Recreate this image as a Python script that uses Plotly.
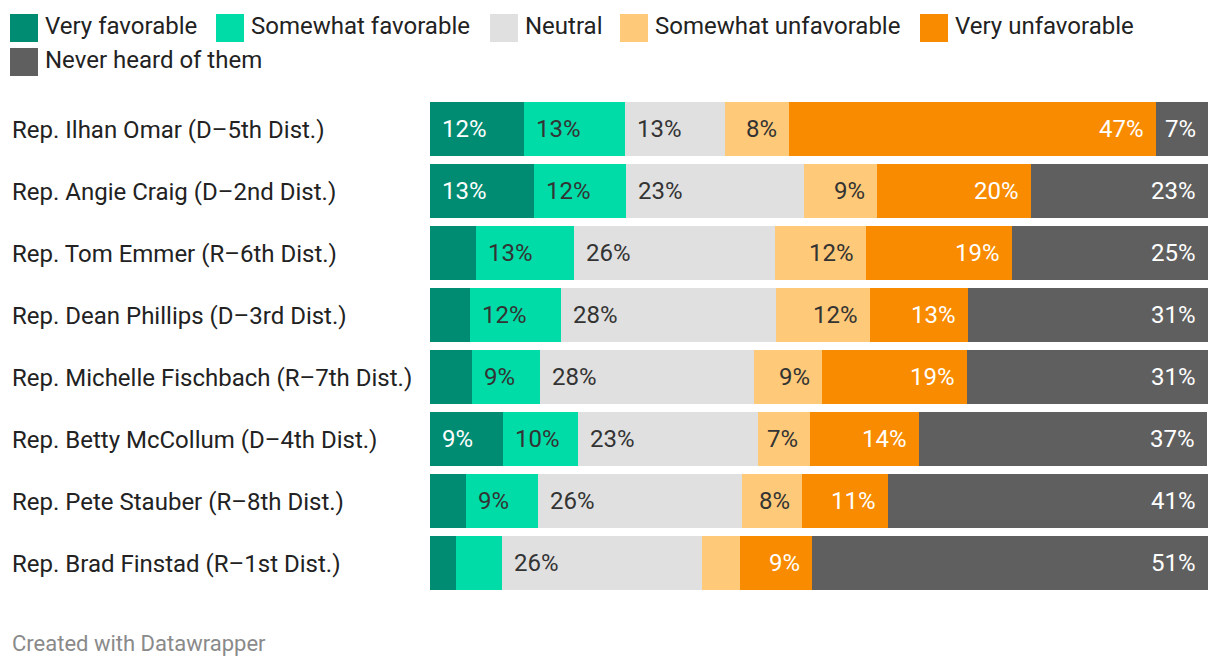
import plotly.graph_objects as go

# ---- data ----
representatives = [
    "Rep. Ilhan Omar (D\u20135th Dist.)",
    "Rep. Angie Craig (D\u20132nd Dist.)",
    "Rep. Tom Emmer (R\u20136th Dist.)",
    "Rep. Dean Phillips (D\u20133rd Dist.)",
    "Rep. Michelle Fischbach (R\u20137th Dist.)",
    "Rep. Betty McCollum (D\u20134th Dist.)",
    "Rep. Pete Stauber (R\u20138th Dist.)",
    "Rep. Brad Finstad (R\u20131st Dist.)",
]
series_names = ["Very favorable", "Somewhat favorable", "Neutral",
                "Somewhat unfavorable", "Very unfavorable", "Never heard of them"]

very_favorable = [12.1, 13.4, 5.9, 5.1, 5.4, 9.4, 4.6, 3.3]
somewhat_favorable = [12.9, 11.8, 12.6, 11.8, 8.7, 9.6, 9.3, 5.9]
neutral = [12.9, 22.9, 25.9, 27.6, 27.6, 23.1, 26.2, 25.7]
somewhat_unfavorable = [8.2, 9.3, 11.6, 12.1, 8.7, 6.7, 7.7, 4.9]
very_unfavorable = [47.2, 19.8, 18.8, 12.6, 18.6, 14.1, 11.1, 9.3]
never_heard = [6.7, 22.8, 25.2, 30.8, 31.0, 37.0, 41.1, 50.9]

series_values = [very_favorable, somewhat_favorable, neutral,
                 somewhat_unfavorable, very_unfavorable, never_heard]

colors = ["#008c72", "#00dca7", "#e0e0e0", "#fec978", "#f98b00", "#5f5f5f"]
label_colors = ["#ffffff", "#333333", "#333333", "#333333", "#ffffff", "#ffffff"]
label_align = ["left", "left", "left", "right", "right", "right"]
MIN_LABEL = 6.0

FONT = "Roboto"
W, H = 1220, 668
ML, MR, MT, MB = 430, 12, 98, 74
PW = W - ML - MR
PH = H - MT - MB


def px_x(px):
    return (px - ML) / PW


def px_y(py):
    return (H - MB - py) / PH


fig = go.Figure()
for name, vals, col in zip(series_names, series_values, colors):
    fig.add_trace(go.Bar(
        y=representatives, x=vals, name=name, orientation="h",
        marker=dict(color=col, line=dict(width=0)),
        hoverinfo="skip", showlegend=False,
    ))

annotations = []
# value labels
for s, vals in enumerate(series_values):
    for i, rep in enumerate(representatives):
        v = vals[i]
        if v < MIN_LABEL:
            continue
        start = sum(series_values[k][i] for k in range(s))
        end = start + v
        if label_align[s] == "left":
            x, anchor, shift = start, "left", 10
        else:
            x, anchor, shift = end, "right", -10
        annotations.append(dict(
            x=x, y=rep, xref="x", yref="y", xanchor=anchor, yanchor="middle",
            xshift=shift, text=f"{round(v)}%", showarrow=False,
            font=dict(family=FONT, size=24, color=label_colors[s]),
        ))

# category labels (left aligned)
for rep in representatives:
    annotations.append(dict(
        x=px_x(10), y=rep, xref="paper", yref="y", xanchor="left",
        yanchor="middle", text=rep, showarrow=False, yshift=-1,
        font=dict(family=FONT, size=24, color="#222222"),
    ))

# custom legend
legend_pos = [(10, 14), (216, 14), (490, 14), (620, 14), (920, 14), (10, 48)]
shapes = []
for (lx, ly), name, col in zip(legend_pos, series_names, colors):
    shapes.append(dict(
        type="rect", xref="paper", yref="paper",
        x0=px_x(lx), x1=px_x(lx + 28), y0=px_y(ly + 28), y1=px_y(ly),
        fillcolor=col, line=dict(width=0),
    ))
    annotations.append(dict(
        x=px_x(lx + 33), y=px_y(ly + 12), xref="paper", yref="paper",
        xanchor="left", yanchor="middle", text=name, showarrow=False,
        font=dict(family=FONT, size=24, color="#222222"),
    ))

# attribution
annotations.append(dict(
    x=px_x(10), y=px_y(643), xref="paper", yref="paper", xanchor="left",
    yanchor="middle", text="Created with Datawrapper", showarrow=False,
    font=dict(family=FONT, size=22, color="#8a8a8a"),
))

fig.update_layout(
    width=W, height=H,
    margin=dict(l=ML, r=MR, t=MT, b=MB, pad=0),
    barmode="stack", bargap=0.129,
    paper_bgcolor="white", plot_bgcolor="white",
    font=dict(family=FONT, color="#333333"),
    xaxis=dict(range=[0, 100], visible=False, fixedrange=True),
    yaxis=dict(categoryorder="array", categoryarray=representatives,
               autorange="reversed", showticklabels=False, showgrid=False,
               zeroline=False, showline=False, ticks="", fixedrange=True),
    annotations=annotations, shapes=shapes, showlegend=False,
)

fig.write_html(
    "out.html",
    config={"displayModeBar": False},
    post_script="document.body.style.margin='0';document.body.style.overflow='hidden';",
)
